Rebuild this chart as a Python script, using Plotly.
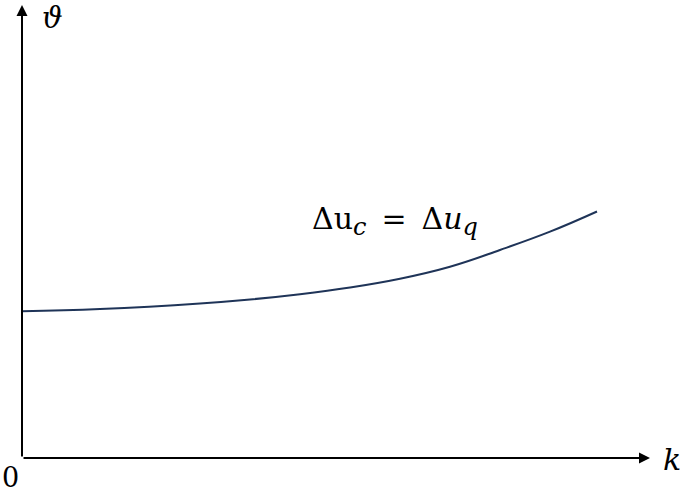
import plotly.graph_objects as go

# curve (axis units 0..100)
curve_k = [0, 12.42, 28.34, 36.31, 44.27, 52.23, 60.19, 68.15, 76.11, 84.08, 91.56]
curve_theta = [32.38, 32.89, 34.11, 34.99, 36.16, 37.64, 39.58, 42.23, 45.92, 49.96, 54.41]

axis_end = 100
serif = "DejaVu Serif"

fig = go.Figure()
fig.add_trace(go.Scatter(
    x=curve_k, y=curve_theta, mode="lines",
    line=dict(color="#1f3458", width=2, shape="spline", smoothing=1.2),
    showlegend=False, hoverinfo="skip",
))

# axes drawn as arrows
fig.add_annotation(x=axis_end, y=0, ax=0, ay=0, xref="x", yref="y", axref="x", ayref="y",
                   showarrow=True, arrowhead=2, arrowsize=1.1, arrowwidth=2, arrowcolor="black", text="")
fig.add_annotation(x=0, y=axis_end, ax=0, ay=0, xref="x", yref="y", axref="x", ayref="y",
                   showarrow=True, arrowhead=2, arrowsize=1.1, arrowwidth=2, arrowcolor="black", text="")

# labels
fig.add_annotation(x=0.0478, y=0.971, xref="paper", yref="paper", xanchor="center", yanchor="middle",
                   text="<i>ϑ</i>", showarrow=False,
                   font=dict(family=serif, size=29, color="black"))
fig.add_annotation(x=1.035, y=-0.004, xref="paper", yref="paper", xanchor="center", yanchor="middle",
                   text="<i>k</i>", showarrow=False,
                   font=dict(family=serif, size=30, color="black"))
fig.add_annotation(x=-0.0035, y=-0.042, xref="paper", yref="paper", xanchor="right", yanchor="middle",
                   text="0", showarrow=False, borderpad=0,
                   font=dict(family=serif, size=27, color="black"))
fig.add_annotation(x=45.86, y=52.4, xanchor="left", yanchor="middle",
                   text=("Δu<sub><span style='font-size:24px'><i>c</i></span></sub>\u2002=\u2002"
                         "Δ<i>u</i><sub><span style='font-size:24px'><i>q</i></span></sub>"),
                   showarrow=False,
                   font=dict(family=serif, size=30, color="black"))

fig.update_xaxes(range=[0, axis_end], visible=False, fixedrange=True)
fig.update_yaxes(range=[0, axis_end], visible=False, fixedrange=True)
fig.update_layout(
    width=685, height=491,
    margin=dict(l=22, r=35, t=5, b=33),
    plot_bgcolor="white", paper_bgcolor="white",
)

# drop the page's default body margin so the figure fills the window
fig.write_html("out.html", config={"displayModeBar": False},
               post_script="document.body.style.margin = '0';")
